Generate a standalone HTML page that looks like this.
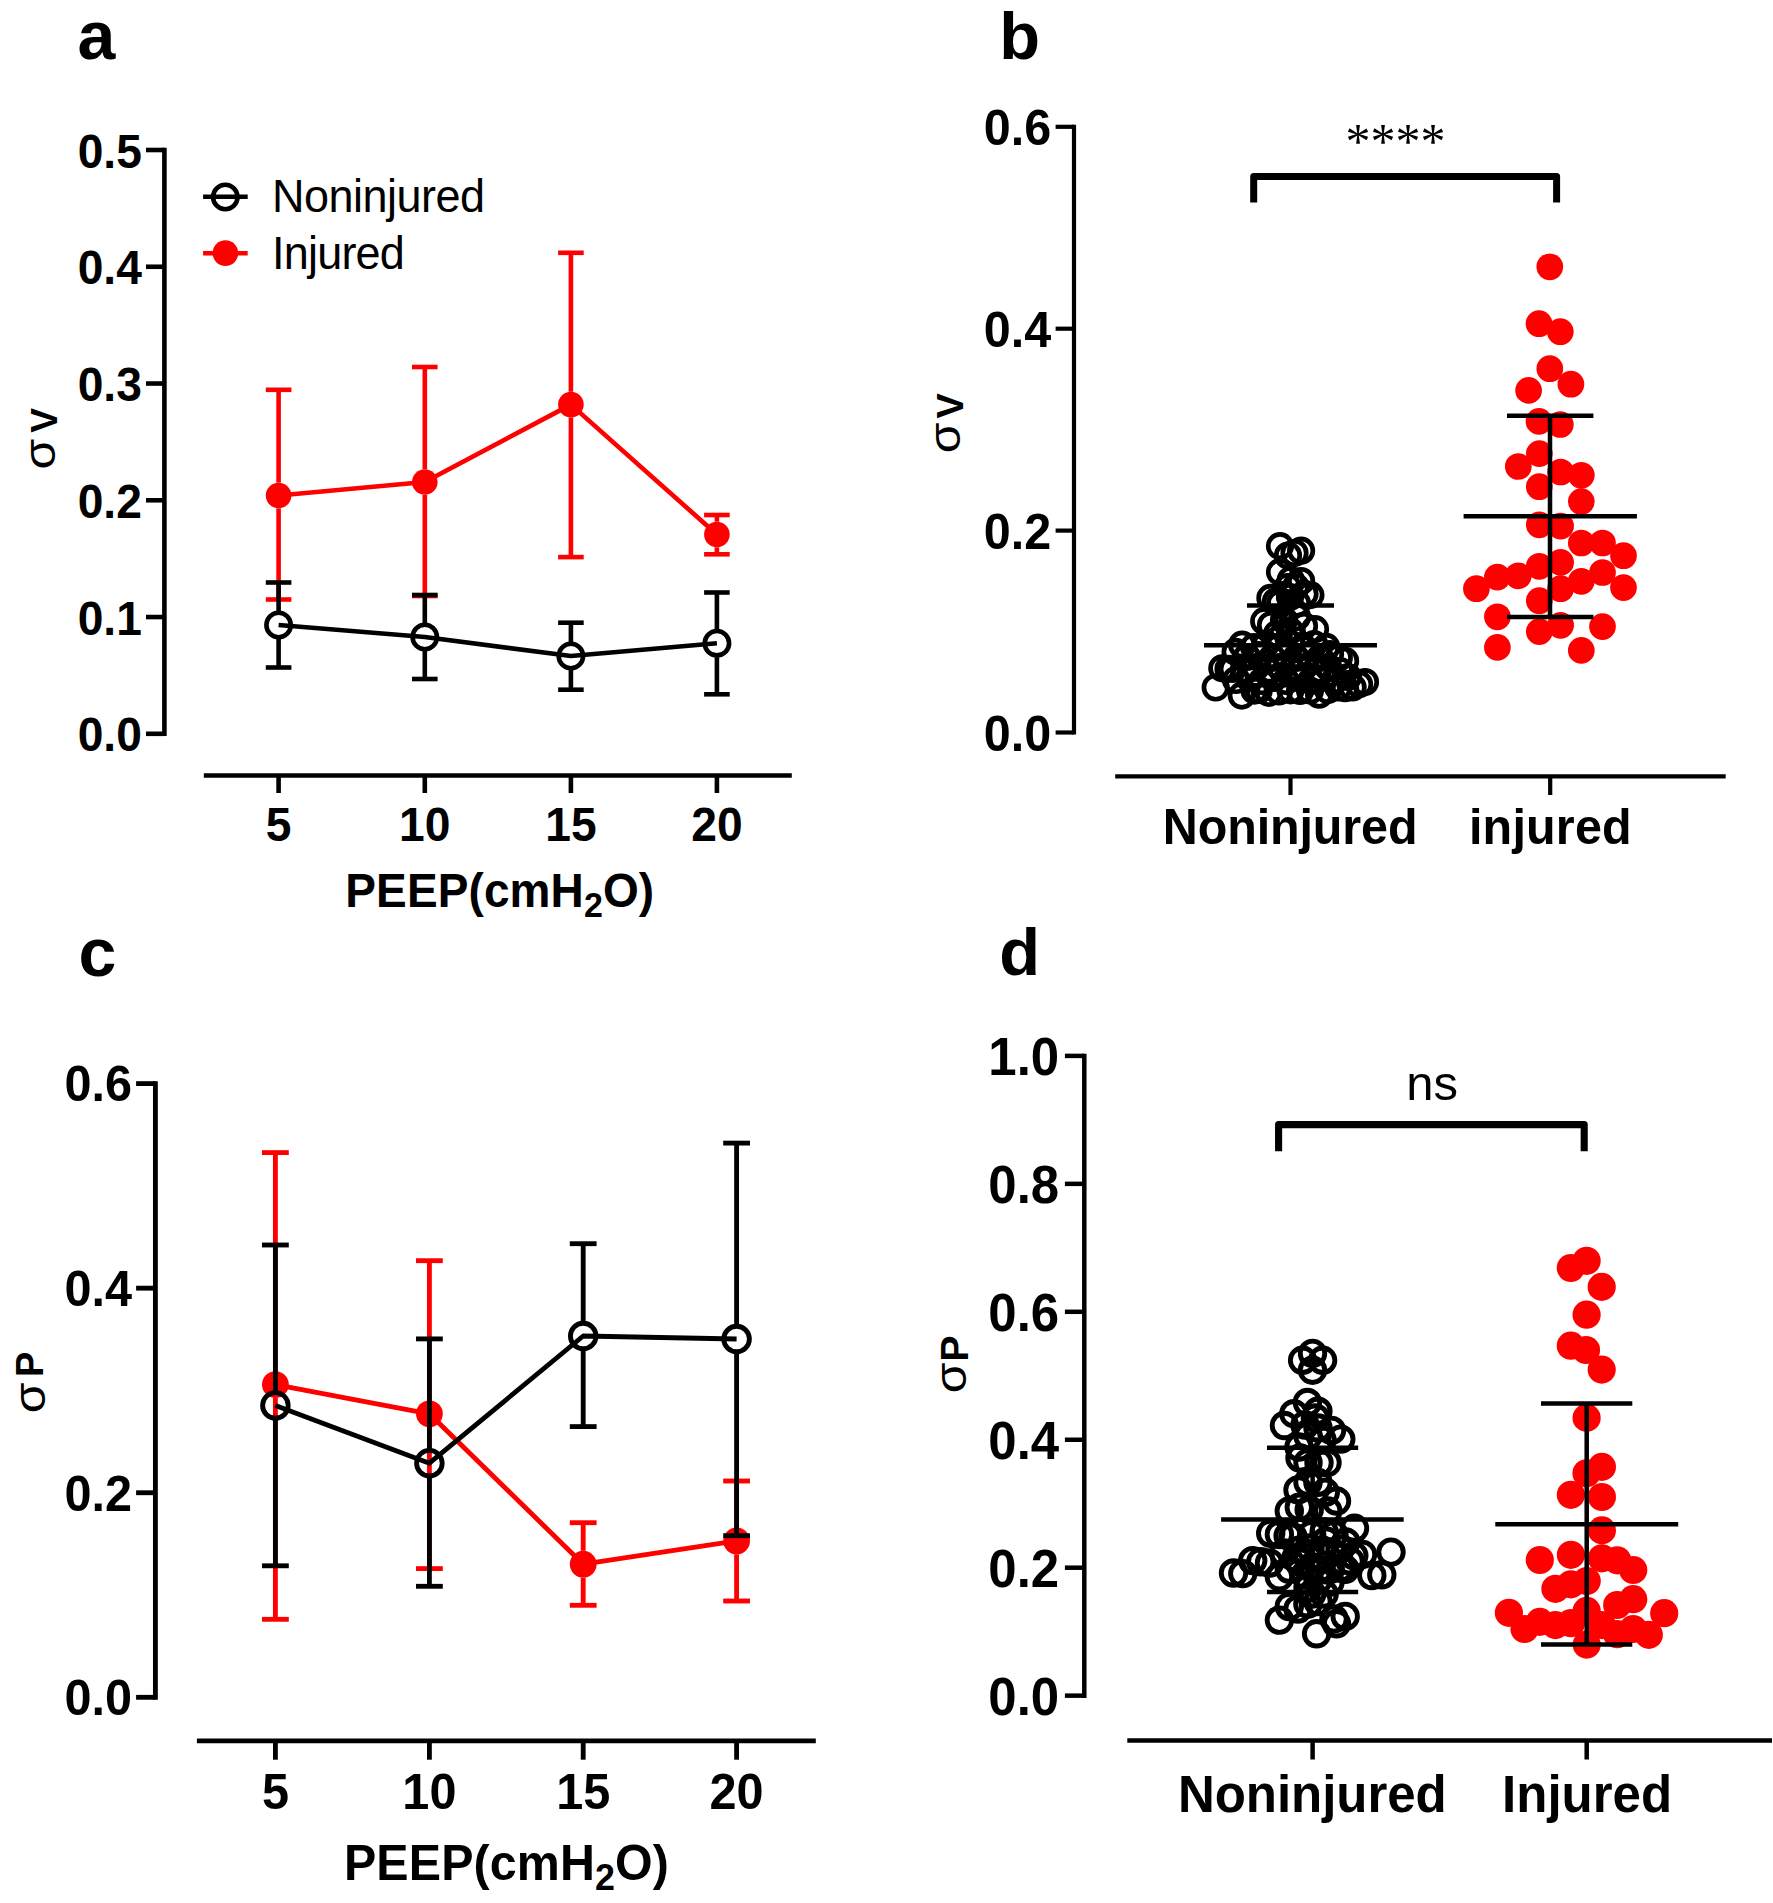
<!DOCTYPE html>
<html lang="en"><head><meta charset="utf-8"><title>Figure</title>
<style>html,body{margin:0;padding:0;background:#fff;}svg{display:block;}text{font-family:'Liberation Sans', sans-serif;fill:#000;}</style>
</head><body>
<svg width="1773" height="1903" viewBox="0 0 1773 1903">
<rect width="1773" height="1903" fill="#fff"/>
<text transform="translate(77.60,58.60) scale(1,1.0)" text-anchor="start" style="font-size:68px;font-weight:bold;" >a</text>
<text transform="translate(999.30,58.50) scale(1,1.0)" text-anchor="start" style="font-size:66.8px;font-weight:bold;" >b</text>
<text transform="translate(78.40,975.60) scale(1,1.0)" text-anchor="start" style="font-size:68px;font-weight:bold;" >c</text>
<text transform="translate(999.20,975.30) scale(1,1.0)" text-anchor="start" style="font-size:66.8px;font-weight:bold;" >d</text>
<g id="panel-a">
<line x1="164.40" y1="147.70" x2="164.40" y2="736.10" stroke="#000" stroke-width="4.6" stroke-linecap="butt"/>
<line x1="146.00" y1="150.00" x2="164.40" y2="150.00" stroke="#000" stroke-width="4.6" stroke-linecap="butt"/>
<text transform="translate(141.90,167.50) scale(1,1.045)" text-anchor="end" style="font-size:46.2px;font-weight:bold;" >0.5</text>
<line x1="146.00" y1="266.76" x2="164.40" y2="266.76" stroke="#000" stroke-width="4.6" stroke-linecap="butt"/>
<text transform="translate(141.90,284.26) scale(1,1.045)" text-anchor="end" style="font-size:46.2px;font-weight:bold;" >0.4</text>
<line x1="146.00" y1="383.52" x2="164.40" y2="383.52" stroke="#000" stroke-width="4.6" stroke-linecap="butt"/>
<text transform="translate(141.90,401.02) scale(1,1.045)" text-anchor="end" style="font-size:46.2px;font-weight:bold;" >0.3</text>
<line x1="146.00" y1="500.28" x2="164.40" y2="500.28" stroke="#000" stroke-width="4.6" stroke-linecap="butt"/>
<text transform="translate(141.90,517.78) scale(1,1.045)" text-anchor="end" style="font-size:46.2px;font-weight:bold;" >0.2</text>
<line x1="146.00" y1="617.04" x2="164.40" y2="617.04" stroke="#000" stroke-width="4.6" stroke-linecap="butt"/>
<text transform="translate(141.90,634.54) scale(1,1.045)" text-anchor="end" style="font-size:46.2px;font-weight:bold;" >0.1</text>
<line x1="146.00" y1="733.80" x2="164.40" y2="733.80" stroke="#000" stroke-width="4.6" stroke-linecap="butt"/>
<text transform="translate(141.90,751.30) scale(1,1.045)" text-anchor="end" style="font-size:46.2px;font-weight:bold;" >0.0</text>
<line x1="203.80" y1="775.50" x2="791.80" y2="775.50" stroke="#000" stroke-width="4.6" stroke-linecap="butt"/>
<line x1="278.60" y1="775.50" x2="278.60" y2="793.00" stroke="#000" stroke-width="4.6" stroke-linecap="butt"/>
<line x1="424.80" y1="775.50" x2="424.80" y2="793.00" stroke="#000" stroke-width="4.6" stroke-linecap="butt"/>
<line x1="570.90" y1="775.50" x2="570.90" y2="793.00" stroke="#000" stroke-width="4.6" stroke-linecap="butt"/>
<line x1="716.90" y1="775.50" x2="716.90" y2="793.00" stroke="#000" stroke-width="4.6" stroke-linecap="butt"/>
<text transform="translate(278.60,840.80) scale(1,1.045)" text-anchor="middle" style="font-size:46.2px;font-weight:bold;" >5</text>
<text transform="translate(424.80,840.80) scale(1,1.045)" text-anchor="middle" style="font-size:46.2px;font-weight:bold;" >10</text>
<text transform="translate(570.90,840.80) scale(1,1.045)" text-anchor="middle" style="font-size:46.2px;font-weight:bold;" >15</text>
<text transform="translate(716.90,840.80) scale(1,1.045)" text-anchor="middle" style="font-size:46.2px;font-weight:bold;" >20</text>
<text transform="translate(499.80,907.20) scale(1,1.035)" text-anchor="middle" style="font-size:46px;font-weight:bold;letter-spacing:0.12px">PEEP(cmH<tspan dy="9.20" style="font-size:34.04px">2</tspan><tspan dy="-9.20">O)</tspan></text>
<g transform="translate(54.80,454.10) rotate(-90) scale(1.117,1)"><text x="0" y="0" text-anchor="middle" style="font-size:44.6px;font-weight:normal">σ</text></g>
<g transform="translate(57.10,420.40) rotate(-90)"><text x="0" y="0" text-anchor="middle" style="font-size:37.2px;font-weight:bold">V</text></g>
<line x1="265.80" y1="389.80" x2="291.40" y2="389.80" stroke="#ff0000" stroke-width="4.6" stroke-linecap="butt"/>
<line x1="265.80" y1="599.50" x2="291.40" y2="599.50" stroke="#ff0000" stroke-width="4.6" stroke-linecap="butt"/>
<line x1="278.60" y1="389.80" x2="278.60" y2="482.70" stroke="#ff0000" stroke-width="4.6" stroke-linecap="butt"/>
<line x1="278.60" y1="508.30" x2="278.60" y2="599.50" stroke="#ff0000" stroke-width="4.6" stroke-linecap="butt"/>
<line x1="412.00" y1="367.00" x2="437.60" y2="367.00" stroke="#ff0000" stroke-width="4.6" stroke-linecap="butt"/>
<line x1="412.00" y1="596.00" x2="437.60" y2="596.00" stroke="#ff0000" stroke-width="4.6" stroke-linecap="butt"/>
<line x1="424.80" y1="367.00" x2="424.80" y2="469.20" stroke="#ff0000" stroke-width="4.6" stroke-linecap="butt"/>
<line x1="424.80" y1="494.80" x2="424.80" y2="596.00" stroke="#ff0000" stroke-width="4.6" stroke-linecap="butt"/>
<line x1="558.10" y1="252.80" x2="583.70" y2="252.80" stroke="#ff0000" stroke-width="4.6" stroke-linecap="butt"/>
<line x1="558.10" y1="557.10" x2="583.70" y2="557.10" stroke="#ff0000" stroke-width="4.6" stroke-linecap="butt"/>
<line x1="570.90" y1="252.80" x2="570.90" y2="391.80" stroke="#ff0000" stroke-width="4.6" stroke-linecap="butt"/>
<line x1="570.90" y1="417.40" x2="570.90" y2="557.10" stroke="#ff0000" stroke-width="4.6" stroke-linecap="butt"/>
<line x1="704.10" y1="515.00" x2="729.70" y2="515.00" stroke="#ff0000" stroke-width="4.6" stroke-linecap="butt"/>
<line x1="704.10" y1="554.30" x2="729.70" y2="554.30" stroke="#ff0000" stroke-width="4.6" stroke-linecap="butt"/>
<line x1="716.90" y1="515.00" x2="716.90" y2="521.70" stroke="#ff0000" stroke-width="4.6" stroke-linecap="butt"/>
<line x1="716.90" y1="547.30" x2="716.90" y2="554.30" stroke="#ff0000" stroke-width="4.6" stroke-linecap="butt"/>
<polyline points="278.60,495.50 424.80,482.00 570.90,404.60 716.90,534.50" fill="none" stroke="#ff0000" stroke-width="4.6" stroke-linejoin="round"/>
<circle cx="278.60" cy="495.50" r="12.8" fill="#ff0000"/>
<circle cx="424.80" cy="482.00" r="12.8" fill="#ff0000"/>
<circle cx="570.90" cy="404.60" r="12.8" fill="#ff0000"/>
<circle cx="716.90" cy="534.50" r="12.8" fill="#ff0000"/>
<line x1="265.80" y1="582.50" x2="291.40" y2="582.50" stroke="#000" stroke-width="4.6" stroke-linecap="butt"/>
<line x1="265.80" y1="667.50" x2="291.40" y2="667.50" stroke="#000" stroke-width="4.6" stroke-linecap="butt"/>
<line x1="278.60" y1="582.50" x2="278.60" y2="611.00" stroke="#000" stroke-width="4.6" stroke-linecap="butt"/>
<line x1="278.60" y1="639.00" x2="278.60" y2="667.50" stroke="#000" stroke-width="4.6" stroke-linecap="butt"/>
<line x1="412.00" y1="595.00" x2="437.60" y2="595.00" stroke="#000" stroke-width="4.6" stroke-linecap="butt"/>
<line x1="412.00" y1="679.00" x2="437.60" y2="679.00" stroke="#000" stroke-width="4.6" stroke-linecap="butt"/>
<line x1="424.80" y1="595.00" x2="424.80" y2="623.00" stroke="#000" stroke-width="4.6" stroke-linecap="butt"/>
<line x1="424.80" y1="651.00" x2="424.80" y2="679.00" stroke="#000" stroke-width="4.6" stroke-linecap="butt"/>
<line x1="558.10" y1="622.70" x2="583.70" y2="622.70" stroke="#000" stroke-width="4.6" stroke-linecap="butt"/>
<line x1="558.10" y1="689.70" x2="583.70" y2="689.70" stroke="#000" stroke-width="4.6" stroke-linecap="butt"/>
<line x1="570.90" y1="622.70" x2="570.90" y2="642.00" stroke="#000" stroke-width="4.6" stroke-linecap="butt"/>
<line x1="570.90" y1="670.00" x2="570.90" y2="689.70" stroke="#000" stroke-width="4.6" stroke-linecap="butt"/>
<line x1="704.10" y1="592.50" x2="729.70" y2="592.50" stroke="#000" stroke-width="4.6" stroke-linecap="butt"/>
<line x1="704.10" y1="694.30" x2="729.70" y2="694.30" stroke="#000" stroke-width="4.6" stroke-linecap="butt"/>
<line x1="716.90" y1="592.50" x2="716.90" y2="629.20" stroke="#000" stroke-width="4.6" stroke-linecap="butt"/>
<line x1="716.90" y1="657.20" x2="716.90" y2="694.30" stroke="#000" stroke-width="4.6" stroke-linecap="butt"/>
<polyline points="278.60,625.00 424.80,637.00 570.90,656.00 716.90,643.20" fill="none" stroke="#000" stroke-width="4.6" stroke-linejoin="round"/>
<circle cx="278.60" cy="625.00" r="12.2" fill="none" stroke="#000" stroke-width="4.6"/>
<circle cx="424.80" cy="637.00" r="12.2" fill="none" stroke="#000" stroke-width="4.6"/>
<circle cx="570.90" cy="656.00" r="12.2" fill="none" stroke="#000" stroke-width="4.6"/>
<circle cx="716.90" cy="643.20" r="12.2" fill="none" stroke="#000" stroke-width="4.6"/>
<line x1="203.10" y1="196.80" x2="247.70" y2="196.80" stroke="#000" stroke-width="4.6" stroke-linecap="butt"/>
<circle cx="225.3" cy="197" r="12.2" fill="none" stroke="#000" stroke-width="4.6"/>
<line x1="203.10" y1="253.20" x2="247.70" y2="253.20" stroke="#ff0000" stroke-width="4.6" stroke-linecap="butt"/>
<circle cx="225.4" cy="253.1" r="12.8" fill="#ff0000"/>
<text transform="translate(272.00,212.40) scale(1,1.04)" text-anchor="start" style="font-size:45px;font-weight:normal;letter-spacing:-0.51px;" >Noninjured</text>
<text transform="translate(272.00,268.70) scale(1,1.04)" text-anchor="start" style="font-size:45px;font-weight:normal;letter-spacing:-0.78px;" >Injured</text>
</g>
<g id="panel-c">
<line x1="155.40" y1="1081.17" x2="155.40" y2="1699.73" stroke="#000" stroke-width="4.85" stroke-linecap="butt"/>
<line x1="136.10" y1="1083.60" x2="155.40" y2="1083.60" stroke="#000" stroke-width="4.85" stroke-linecap="butt"/>
<text transform="translate(132.00,1101.40) scale(1,1.045)" text-anchor="end" style="font-size:48.6px;font-weight:bold;" >0.6</text>
<line x1="136.10" y1="1288.17" x2="155.40" y2="1288.17" stroke="#000" stroke-width="4.85" stroke-linecap="butt"/>
<text transform="translate(132.00,1305.97) scale(1,1.045)" text-anchor="end" style="font-size:48.6px;font-weight:bold;" >0.4</text>
<line x1="136.10" y1="1492.74" x2="155.40" y2="1492.74" stroke="#000" stroke-width="4.85" stroke-linecap="butt"/>
<text transform="translate(132.00,1510.54) scale(1,1.045)" text-anchor="end" style="font-size:48.6px;font-weight:bold;" >0.2</text>
<line x1="136.10" y1="1697.31" x2="155.40" y2="1697.31" stroke="#000" stroke-width="4.85" stroke-linecap="butt"/>
<text transform="translate(132.00,1715.11) scale(1,1.045)" text-anchor="end" style="font-size:48.6px;font-weight:bold;" >0.0</text>
<line x1="196.90" y1="1740.90" x2="815.80" y2="1740.90" stroke="#000" stroke-width="4.85" stroke-linecap="butt"/>
<line x1="275.40" y1="1740.90" x2="275.40" y2="1759.70" stroke="#000" stroke-width="4.85" stroke-linecap="butt"/>
<line x1="429.40" y1="1740.90" x2="429.40" y2="1759.70" stroke="#000" stroke-width="4.85" stroke-linecap="butt"/>
<line x1="583.20" y1="1740.90" x2="583.20" y2="1759.70" stroke="#000" stroke-width="4.85" stroke-linecap="butt"/>
<line x1="736.60" y1="1740.90" x2="736.60" y2="1759.70" stroke="#000" stroke-width="4.85" stroke-linecap="butt"/>
<text transform="translate(275.40,1809.30) scale(1,1.045)" text-anchor="middle" style="font-size:48.6px;font-weight:bold;" >5</text>
<text transform="translate(429.40,1809.30) scale(1,1.045)" text-anchor="middle" style="font-size:48.6px;font-weight:bold;" >10</text>
<text transform="translate(583.20,1809.30) scale(1,1.045)" text-anchor="middle" style="font-size:48.6px;font-weight:bold;" >15</text>
<text transform="translate(736.60,1809.30) scale(1,1.045)" text-anchor="middle" style="font-size:48.6px;font-weight:bold;" >20</text>
<text transform="translate(506.50,1879.70) scale(1,1.035)" text-anchor="middle" style="font-size:48.4px;font-weight:bold;letter-spacing:0.12px">PEEP(cmH<tspan dy="9.68" style="font-size:35.82px">2</tspan><tspan dy="-9.68">O)</tspan></text>
<g transform="translate(44.90,1398.00) rotate(-90) scale(1.117,1)"><text x="0" y="0" text-anchor="middle" style="font-size:44.6px;font-weight:normal">σ</text></g>
<g transform="translate(43.40,1364.30) rotate(-90)"><text x="0" y="0" text-anchor="middle" style="font-size:38.0px;font-weight:bold">P</text></g>
<line x1="262.00" y1="1152.60" x2="288.80" y2="1152.60" stroke="#ff0000" stroke-width="4.85" stroke-linecap="butt"/>
<line x1="262.00" y1="1619.30" x2="288.80" y2="1619.30" stroke="#ff0000" stroke-width="4.85" stroke-linecap="butt"/>
<line x1="275.40" y1="1152.60" x2="275.40" y2="1371.20" stroke="#ff0000" stroke-width="4.85" stroke-linecap="butt"/>
<line x1="275.40" y1="1398.00" x2="275.40" y2="1619.30" stroke="#ff0000" stroke-width="4.85" stroke-linecap="butt"/>
<line x1="416.00" y1="1260.70" x2="442.80" y2="1260.70" stroke="#ff0000" stroke-width="4.85" stroke-linecap="butt"/>
<line x1="416.00" y1="1568.60" x2="442.80" y2="1568.60" stroke="#ff0000" stroke-width="4.85" stroke-linecap="butt"/>
<line x1="429.40" y1="1260.70" x2="429.40" y2="1400.40" stroke="#ff0000" stroke-width="4.85" stroke-linecap="butt"/>
<line x1="429.40" y1="1427.20" x2="429.40" y2="1568.60" stroke="#ff0000" stroke-width="4.85" stroke-linecap="butt"/>
<line x1="569.80" y1="1522.70" x2="596.60" y2="1522.70" stroke="#ff0000" stroke-width="4.85" stroke-linecap="butt"/>
<line x1="569.80" y1="1605.30" x2="596.60" y2="1605.30" stroke="#ff0000" stroke-width="4.85" stroke-linecap="butt"/>
<line x1="583.20" y1="1522.70" x2="583.20" y2="1550.80" stroke="#ff0000" stroke-width="4.85" stroke-linecap="butt"/>
<line x1="583.20" y1="1577.60" x2="583.20" y2="1605.30" stroke="#ff0000" stroke-width="4.85" stroke-linecap="butt"/>
<line x1="723.20" y1="1481.00" x2="750.00" y2="1481.00" stroke="#ff0000" stroke-width="4.85" stroke-linecap="butt"/>
<line x1="723.20" y1="1601.00" x2="750.00" y2="1601.00" stroke="#ff0000" stroke-width="4.85" stroke-linecap="butt"/>
<line x1="736.60" y1="1481.00" x2="736.60" y2="1527.50" stroke="#ff0000" stroke-width="4.85" stroke-linecap="butt"/>
<line x1="736.60" y1="1554.30" x2="736.60" y2="1601.00" stroke="#ff0000" stroke-width="4.85" stroke-linecap="butt"/>
<polyline points="275.40,1384.60 429.40,1413.80 583.20,1564.20 736.60,1540.90" fill="none" stroke="#ff0000" stroke-width="4.85" stroke-linejoin="round"/>
<circle cx="275.40" cy="1384.60" r="13.4" fill="#ff0000"/>
<circle cx="429.40" cy="1413.80" r="13.4" fill="#ff0000"/>
<circle cx="583.20" cy="1564.20" r="13.4" fill="#ff0000"/>
<circle cx="736.60" cy="1540.90" r="13.4" fill="#ff0000"/>
<line x1="262.00" y1="1245.00" x2="288.80" y2="1245.00" stroke="#000" stroke-width="4.85" stroke-linecap="butt"/>
<line x1="262.00" y1="1565.80" x2="288.80" y2="1565.80" stroke="#000" stroke-width="4.85" stroke-linecap="butt"/>
<line x1="275.40" y1="1245.00" x2="275.40" y2="1390.68" stroke="#000" stroke-width="4.85" stroke-linecap="butt"/>
<line x1="275.40" y1="1420.12" x2="275.40" y2="1565.80" stroke="#000" stroke-width="4.85" stroke-linecap="butt"/>
<line x1="416.00" y1="1338.90" x2="442.80" y2="1338.90" stroke="#000" stroke-width="4.85" stroke-linecap="butt"/>
<line x1="416.00" y1="1586.30" x2="442.80" y2="1586.30" stroke="#000" stroke-width="4.85" stroke-linecap="butt"/>
<line x1="429.40" y1="1338.90" x2="429.40" y2="1448.48" stroke="#000" stroke-width="4.85" stroke-linecap="butt"/>
<line x1="429.40" y1="1477.92" x2="429.40" y2="1586.30" stroke="#000" stroke-width="4.85" stroke-linecap="butt"/>
<line x1="569.80" y1="1243.70" x2="596.60" y2="1243.70" stroke="#000" stroke-width="4.85" stroke-linecap="butt"/>
<line x1="569.80" y1="1426.60" x2="596.60" y2="1426.60" stroke="#000" stroke-width="4.85" stroke-linecap="butt"/>
<line x1="583.20" y1="1243.70" x2="583.20" y2="1321.28" stroke="#000" stroke-width="4.85" stroke-linecap="butt"/>
<line x1="583.20" y1="1350.72" x2="583.20" y2="1426.60" stroke="#000" stroke-width="4.85" stroke-linecap="butt"/>
<line x1="723.20" y1="1143.10" x2="750.00" y2="1143.10" stroke="#000" stroke-width="4.85" stroke-linecap="butt"/>
<line x1="723.20" y1="1535.70" x2="750.00" y2="1535.70" stroke="#000" stroke-width="4.85" stroke-linecap="butt"/>
<line x1="736.60" y1="1143.10" x2="736.60" y2="1324.28" stroke="#000" stroke-width="4.85" stroke-linecap="butt"/>
<line x1="736.60" y1="1353.72" x2="736.60" y2="1535.70" stroke="#000" stroke-width="4.85" stroke-linecap="butt"/>
<polyline points="275.40,1405.40 429.40,1463.20 583.20,1336.00 736.60,1339.00" fill="none" stroke="#000" stroke-width="4.85" stroke-linejoin="round"/>
<circle cx="275.40" cy="1405.40" r="12.8" fill="none" stroke="#000" stroke-width="4.85"/>
<circle cx="429.40" cy="1463.20" r="12.8" fill="none" stroke="#000" stroke-width="4.85"/>
<circle cx="583.20" cy="1336.00" r="12.8" fill="none" stroke="#000" stroke-width="4.85"/>
<circle cx="736.60" cy="1339.00" r="12.8" fill="none" stroke="#000" stroke-width="4.85"/>
</g>
<g id="panel-b">
<line x1="1074.00" y1="124.70" x2="1074.00" y2="734.60" stroke="#000" stroke-width="4.2" stroke-linecap="butt"/>
<line x1="1055.60" y1="126.80" x2="1074.00" y2="126.80" stroke="#000" stroke-width="4.2" stroke-linecap="butt"/>
<text transform="translate(1051.20,145.10) scale(1,1.045)" text-anchor="end" style="font-size:48.5px;font-weight:bold;" >0.6</text>
<line x1="1055.60" y1="328.70" x2="1074.00" y2="328.70" stroke="#000" stroke-width="4.2" stroke-linecap="butt"/>
<text transform="translate(1051.20,347.00) scale(1,1.045)" text-anchor="end" style="font-size:48.5px;font-weight:bold;" >0.4</text>
<line x1="1055.60" y1="530.60" x2="1074.00" y2="530.60" stroke="#000" stroke-width="4.2" stroke-linecap="butt"/>
<text transform="translate(1051.20,548.90) scale(1,1.045)" text-anchor="end" style="font-size:48.5px;font-weight:bold;" >0.2</text>
<line x1="1055.60" y1="732.50" x2="1074.00" y2="732.50" stroke="#000" stroke-width="4.2" stroke-linecap="butt"/>
<text transform="translate(1051.20,750.80) scale(1,1.045)" text-anchor="end" style="font-size:48.5px;font-weight:bold;" >0.0</text>
<line x1="1115.20" y1="776.30" x2="1725.70" y2="776.30" stroke="#000" stroke-width="4.2" stroke-linecap="butt"/>
<line x1="1290.50" y1="776.30" x2="1290.50" y2="795.00" stroke="#000" stroke-width="4.2" stroke-linecap="butt"/>
<line x1="1550.20" y1="776.30" x2="1550.20" y2="795.00" stroke="#000" stroke-width="4.2" stroke-linecap="butt"/>
<text transform="translate(1290.10,843.50) scale(1,1.035)" text-anchor="middle" style="font-size:48.5px;font-weight:bold;letter-spacing:-0.12px;" >Noninjured</text>
<text transform="translate(1550.40,843.50) scale(1,1.035)" text-anchor="middle" style="font-size:48.5px;font-weight:bold;letter-spacing:0.2px;" >injured</text>
<g transform="translate(960.40,437.90) rotate(-90) scale(1.117,1)"><text x="0" y="0" text-anchor="middle" style="font-size:44.6px;font-weight:normal">σ</text></g>
<g transform="translate(963.00,406.00) rotate(-90)"><text x="0" y="0" text-anchor="middle" style="font-size:37.8px;font-weight:bold">V</text></g>
<g fill="none" stroke="#000" stroke-width="4.7">
<circle cx="1280.0" cy="546.1" r="11.75"/>
<circle cx="1301.1" cy="550.7" r="11.75"/>
<circle cx="1288.0" cy="555.5" r="11.75"/>
<circle cx="1294.5" cy="553.0" r="11.75"/>
<circle cx="1280.0" cy="572.1" r="11.75"/>
<circle cx="1301.1" cy="581.0" r="11.75"/>
<circle cx="1290.8" cy="580.0" r="11.75"/>
<circle cx="1287.7" cy="587.0" r="11.75"/>
<circle cx="1295.8" cy="587.0" r="11.75"/>
<circle cx="1310.4" cy="595.1" r="11.75"/>
<circle cx="1304.5" cy="593.9" r="11.75"/>
<circle cx="1270.4" cy="597.9" r="11.75"/>
<circle cx="1276.0" cy="601.3" r="11.75"/>
<circle cx="1280.3" cy="603.2" r="11.75"/>
<circle cx="1297.0" cy="603.5" r="11.75"/>
<circle cx="1290.0" cy="597.0" r="11.75"/>
<circle cx="1264.2" cy="621.2" r="11.75"/>
<circle cx="1315.0" cy="629.2" r="11.75"/>
<circle cx="1271.0" cy="625.0" r="11.75"/>
<circle cx="1284.0" cy="620.0" r="11.75"/>
<circle cx="1297.0" cy="617.0" r="11.75"/>
<circle cx="1304.0" cy="626.0" r="11.75"/>
<circle cx="1290.0" cy="631.0" r="11.75"/>
<circle cx="1277.0" cy="634.0" r="11.75"/>
<circle cx="1242.1" cy="644.7" r="11.75"/>
<circle cx="1235.6" cy="651.9" r="11.75"/>
<circle cx="1326.2" cy="646.9" r="11.75"/>
<circle cx="1338.8" cy="657.7" r="11.75"/>
<circle cx="1345.1" cy="660.9" r="11.75"/>
<circle cx="1222.3" cy="668.3" r="11.75"/>
<circle cx="1228.5" cy="668.9" r="11.75"/>
<circle cx="1232.8" cy="668.9" r="11.75"/>
<circle cx="1365.0" cy="682.0" r="11.75"/>
<circle cx="1359.1" cy="684.4" r="11.75"/>
<circle cx="1215.7" cy="687.5" r="11.75"/>
<circle cx="1352.6" cy="687.5" r="11.75"/>
<circle cx="1345.1" cy="688.2" r="11.75"/>
<circle cx="1338.3" cy="687.5" r="11.75"/>
<circle cx="1241.8" cy="695.6" r="11.75"/>
<circle cx="1254.5" cy="690.6" r="11.75"/>
<circle cx="1258.9" cy="690.0" r="11.75"/>
<circle cx="1268.8" cy="692.8" r="11.75"/>
<circle cx="1279.0" cy="691.5" r="11.75"/>
<circle cx="1290.5" cy="690.3" r="11.75"/>
<circle cx="1300.0" cy="691.0" r="11.75"/>
<circle cx="1310.0" cy="690.5" r="11.75"/>
<circle cx="1319.1" cy="694.7" r="11.75"/>
<circle cx="1328.0" cy="690.0" r="11.75"/>
<circle cx="1254.0" cy="647.0" r="11.75"/>
<circle cx="1266.0" cy="644.0" r="11.75"/>
<circle cx="1279.0" cy="647.0" r="11.75"/>
<circle cx="1291.0" cy="644.0" r="11.75"/>
<circle cx="1303.0" cy="647.0" r="11.75"/>
<circle cx="1314.0" cy="644.0" r="11.75"/>
<circle cx="1247.0" cy="657.0" r="11.75"/>
<circle cx="1259.0" cy="655.0" r="11.75"/>
<circle cx="1272.0" cy="658.0" r="11.75"/>
<circle cx="1284.0" cy="655.0" r="11.75"/>
<circle cx="1296.0" cy="658.0" r="11.75"/>
<circle cx="1308.0" cy="655.0" r="11.75"/>
<circle cx="1320.0" cy="658.0" r="11.75"/>
<circle cx="1330.0" cy="654.0" r="11.75"/>
<circle cx="1244.0" cy="669.0" r="11.75"/>
<circle cx="1256.0" cy="667.0" r="11.75"/>
<circle cx="1268.0" cy="670.0" r="11.75"/>
<circle cx="1280.0" cy="667.0" r="11.75"/>
<circle cx="1292.0" cy="670.0" r="11.75"/>
<circle cx="1304.0" cy="667.0" r="11.75"/>
<circle cx="1316.0" cy="670.0" r="11.75"/>
<circle cx="1328.0" cy="667.0" r="11.75"/>
<circle cx="1340.0" cy="671.0" r="11.75"/>
<circle cx="1236.0" cy="680.0" r="11.75"/>
<circle cx="1249.0" cy="678.0" r="11.75"/>
<circle cx="1262.0" cy="681.0" r="11.75"/>
<circle cx="1274.0" cy="678.0" r="11.75"/>
<circle cx="1286.0" cy="681.0" r="11.75"/>
<circle cx="1298.0" cy="678.0" r="11.75"/>
<circle cx="1311.0" cy="681.0" r="11.75"/>
<circle cx="1323.0" cy="678.0" r="11.75"/>
<circle cx="1335.0" cy="680.0" r="11.75"/>
<circle cx="1348.0" cy="677.0" r="11.75"/>
</g>
<line x1="1204.00" y1="645.30" x2="1377.00" y2="645.30" stroke="#000" stroke-width="4.5" stroke-linecap="butt"/>
<line x1="1247.00" y1="605.40" x2="1334.00" y2="605.40" stroke="#000" stroke-width="4.5" stroke-linecap="butt"/>
<line x1="1247.00" y1="685.30" x2="1334.00" y2="685.30" stroke="#000" stroke-width="4.5" stroke-linecap="butt"/>
<line x1="1290.50" y1="605.40" x2="1290.50" y2="685.30" stroke="#000" stroke-width="4.5" stroke-linecap="butt"/>
<g fill="#ff0000">
<circle cx="1549.8" cy="266.8" r="13.35"/>
<circle cx="1539.0" cy="323.7" r="13.35"/>
<circle cx="1560.3" cy="331.7" r="13.35"/>
<circle cx="1549.8" cy="368.7" r="13.35"/>
<circle cx="1570.9" cy="384.2" r="13.35"/>
<circle cx="1528.6" cy="390.4" r="13.35"/>
<circle cx="1539.0" cy="421.4" r="13.35"/>
<circle cx="1560.3" cy="424.5" r="13.35"/>
<circle cx="1539.3" cy="453.6" r="13.35"/>
<circle cx="1518.3" cy="466.5" r="13.35"/>
<circle cx="1560.6" cy="472.0" r="13.35"/>
<circle cx="1581.3" cy="475.3" r="13.35"/>
<circle cx="1539.3" cy="486.7" r="13.35"/>
<circle cx="1581.3" cy="501.6" r="13.35"/>
<circle cx="1539.3" cy="524.8" r="13.35"/>
<circle cx="1560.6" cy="526.1" r="13.35"/>
<circle cx="1581.3" cy="543.0" r="13.35"/>
<circle cx="1602.5" cy="543.0" r="13.35"/>
<circle cx="1623.5" cy="555.7" r="13.35"/>
<circle cx="1560.6" cy="562.4" r="13.35"/>
<circle cx="1539.3" cy="566.3" r="13.35"/>
<circle cx="1602.5" cy="572.5" r="13.35"/>
<circle cx="1518.3" cy="575.8" r="13.35"/>
<circle cx="1497.4" cy="577.1" r="13.35"/>
<circle cx="1581.3" cy="581.3" r="13.35"/>
<circle cx="1623.5" cy="587.6" r="13.35"/>
<circle cx="1476.4" cy="588.7" r="13.35"/>
<circle cx="1560.6" cy="588.7" r="13.35"/>
<circle cx="1539.3" cy="600.7" r="13.35"/>
<circle cx="1497.4" cy="616.8" r="13.35"/>
<circle cx="1560.6" cy="625.3" r="13.35"/>
<circle cx="1602.5" cy="626.6" r="13.35"/>
<circle cx="1539.3" cy="631.6" r="13.35"/>
<circle cx="1497.4" cy="647.4" r="13.35"/>
<circle cx="1581.3" cy="650.4" r="13.35"/>
</g>
<line x1="1463.60" y1="516.30" x2="1636.90" y2="516.30" stroke="#000" stroke-width="4.5" stroke-linecap="butt"/>
<line x1="1507.00" y1="415.70" x2="1593.40" y2="415.70" stroke="#000" stroke-width="4.5" stroke-linecap="butt"/>
<line x1="1507.00" y1="617.00" x2="1593.40" y2="617.00" stroke="#000" stroke-width="4.5" stroke-linecap="butt"/>
<line x1="1550.00" y1="415.70" x2="1550.00" y2="617.00" stroke="#000" stroke-width="4.5" stroke-linecap="butt"/>
<polyline points="1253.70,202.50 1253.70,176.40 1556.60,176.40 1556.60,202.50" fill="none" stroke="#000" stroke-width="7.0" stroke-linejoin="round"/>
<text transform="translate(1395.40,158.00) scale(1,1.0)" text-anchor="middle" style="font-size:50px;font-weight:normal;letter-spacing:0px;font-family:'Liberation Serif',serif;" >****</text>
</g>
<g id="panel-d">
<line x1="1084.30" y1="1053.65" x2="1084.30" y2="1697.90" stroke="#000" stroke-width="4.5" stroke-linecap="butt"/>
<line x1="1064.90" y1="1055.90" x2="1084.30" y2="1055.90" stroke="#000" stroke-width="4.5" stroke-linecap="butt"/>
<text transform="translate(1059.20,1075.35) scale(1,1.045)" text-anchor="end" style="font-size:51px;font-weight:bold;" >1.0</text>
<line x1="1064.90" y1="1183.85" x2="1084.30" y2="1183.85" stroke="#000" stroke-width="4.5" stroke-linecap="butt"/>
<text transform="translate(1059.20,1203.30) scale(1,1.045)" text-anchor="end" style="font-size:51px;font-weight:bold;" >0.8</text>
<line x1="1064.90" y1="1311.80" x2="1084.30" y2="1311.80" stroke="#000" stroke-width="4.5" stroke-linecap="butt"/>
<text transform="translate(1059.20,1331.25) scale(1,1.045)" text-anchor="end" style="font-size:51px;font-weight:bold;" >0.6</text>
<line x1="1064.90" y1="1439.75" x2="1084.30" y2="1439.75" stroke="#000" stroke-width="4.5" stroke-linecap="butt"/>
<text transform="translate(1059.20,1459.20) scale(1,1.045)" text-anchor="end" style="font-size:51px;font-weight:bold;" >0.4</text>
<line x1="1064.90" y1="1567.70" x2="1084.30" y2="1567.70" stroke="#000" stroke-width="4.5" stroke-linecap="butt"/>
<text transform="translate(1059.20,1587.15) scale(1,1.045)" text-anchor="end" style="font-size:51px;font-weight:bold;" >0.2</text>
<line x1="1064.90" y1="1695.65" x2="1084.30" y2="1695.65" stroke="#000" stroke-width="4.5" stroke-linecap="butt"/>
<text transform="translate(1059.20,1715.10) scale(1,1.045)" text-anchor="end" style="font-size:51px;font-weight:bold;" >0.0</text>
<line x1="1127.30" y1="1740.60" x2="1772.00" y2="1740.60" stroke="#000" stroke-width="4.5" stroke-linecap="butt"/>
<line x1="1312.60" y1="1740.60" x2="1312.60" y2="1759.50" stroke="#000" stroke-width="4.5" stroke-linecap="butt"/>
<line x1="1586.70" y1="1740.60" x2="1586.70" y2="1759.50" stroke="#000" stroke-width="4.5" stroke-linecap="butt"/>
<text transform="translate(1312.30,1811.90) scale(1,1.0)" text-anchor="middle" style="font-size:51px;font-weight:bold;letter-spacing:-0.03px;" >Noninjured</text>
<text transform="translate(1587.10,1811.90) scale(1,1.0)" text-anchor="middle" style="font-size:51px;font-weight:bold;letter-spacing:0.0px;" >Injured</text>
<g transform="translate(966.10,1378.00) rotate(-90) scale(1.117,1)"><text x="0" y="0" text-anchor="middle" style="font-size:44.6px;font-weight:normal">σ</text></g>
<g transform="translate(967.80,1348.50) rotate(-90)"><text x="0" y="0" text-anchor="middle" style="font-size:39.5px;font-weight:bold">P</text></g>
<g fill="none" stroke="#000" stroke-width="4.9">
<circle cx="1312.5" cy="1353.4" r="12.25"/>
<circle cx="1302.6" cy="1360.3" r="12.25"/>
<circle cx="1322.6" cy="1360.3" r="12.25"/>
<circle cx="1312.5" cy="1370.2" r="12.25"/>
<circle cx="1307.4" cy="1402.5" r="12.25"/>
<circle cx="1317.9" cy="1411.2" r="12.25"/>
<circle cx="1293.9" cy="1413.7" r="12.25"/>
<circle cx="1284.4" cy="1425.5" r="12.25"/>
<circle cx="1315.4" cy="1418.0" r="12.25"/>
<circle cx="1331.5" cy="1430.4" r="12.25"/>
<circle cx="1340.8" cy="1439.1" r="12.25"/>
<circle cx="1299.0" cy="1447.0" r="12.25"/>
<circle cx="1305.0" cy="1425.0" r="12.25"/>
<circle cx="1318.0" cy="1428.0" r="12.25"/>
<circle cx="1308.0" cy="1436.0" r="12.25"/>
<circle cx="1322.0" cy="1440.0" r="12.25"/>
<circle cx="1308.0" cy="1462.7" r="12.25"/>
<circle cx="1319.0" cy="1462.7" r="12.25"/>
<circle cx="1327.0" cy="1462.7" r="12.25"/>
<circle cx="1300.0" cy="1458.0" r="12.25"/>
<circle cx="1298.0" cy="1489.9" r="12.25"/>
<circle cx="1308.0" cy="1482.4" r="12.25"/>
<circle cx="1317.9" cy="1482.4" r="12.25"/>
<circle cx="1325.3" cy="1492.3" r="12.25"/>
<circle cx="1336.5" cy="1501.0" r="12.25"/>
<circle cx="1289.3" cy="1510.9" r="12.25"/>
<circle cx="1299.3" cy="1507.2" r="12.25"/>
<circle cx="1309.2" cy="1509.7" r="12.25"/>
<circle cx="1327.8" cy="1510.9" r="12.25"/>
<circle cx="1354.5" cy="1528.3" r="12.25"/>
<circle cx="1270.7" cy="1533.3" r="12.25"/>
<circle cx="1279.4" cy="1534.5" r="12.25"/>
<circle cx="1288.1" cy="1535.8" r="12.25"/>
<circle cx="1293.0" cy="1537.0" r="12.25"/>
<circle cx="1345.8" cy="1542.0" r="12.25"/>
<circle cx="1311.7" cy="1534.5" r="12.25"/>
<circle cx="1324.1" cy="1532.0" r="12.25"/>
<circle cx="1334.0" cy="1534.5" r="12.25"/>
<circle cx="1391.0" cy="1552.1" r="12.25"/>
<circle cx="1362.5" cy="1554.4" r="12.25"/>
<circle cx="1353.8" cy="1555.6" r="12.25"/>
<circle cx="1252.7" cy="1560.6" r="12.25"/>
<circle cx="1260.8" cy="1561.8" r="12.25"/>
<circle cx="1269.5" cy="1563.0" r="12.25"/>
<circle cx="1233.5" cy="1573.0" r="12.25"/>
<circle cx="1242.8" cy="1573.6" r="12.25"/>
<circle cx="1371.8" cy="1575.5" r="12.25"/>
<circle cx="1381.8" cy="1574.8" r="12.25"/>
<circle cx="1279.4" cy="1576.7" r="12.25"/>
<circle cx="1289.3" cy="1569.3" r="12.25"/>
<circle cx="1311.7" cy="1566.8" r="12.25"/>
<circle cx="1319.1" cy="1569.3" r="12.25"/>
<circle cx="1330.3" cy="1569.3" r="12.25"/>
<circle cx="1340.2" cy="1568.0" r="12.25"/>
<circle cx="1345.2" cy="1569.3" r="12.25"/>
<circle cx="1300.0" cy="1550.0" r="12.25"/>
<circle cx="1310.0" cy="1548.0" r="12.25"/>
<circle cx="1322.0" cy="1550.0" r="12.25"/>
<circle cx="1332.0" cy="1552.0" r="12.25"/>
<circle cx="1300.0" cy="1562.0" r="12.25"/>
<circle cx="1305.0" cy="1575.0" r="12.25"/>
<circle cx="1318.0" cy="1580.0" r="12.25"/>
<circle cx="1330.0" cy="1582.0" r="12.25"/>
<circle cx="1296.0" cy="1558.0" r="12.25"/>
<circle cx="1284.0" cy="1553.0" r="12.25"/>
<circle cx="1340.0" cy="1549.0" r="12.25"/>
<circle cx="1350.0" cy="1561.0" r="12.25"/>
<circle cx="1326.0" cy="1541.0" r="12.25"/>
<circle cx="1308.0" cy="1588.0" r="12.25"/>
<circle cx="1279.4" cy="1620.1" r="12.25"/>
<circle cx="1289.3" cy="1606.5" r="12.25"/>
<circle cx="1298.0" cy="1609.0" r="12.25"/>
<circle cx="1307.9" cy="1604.0" r="12.25"/>
<circle cx="1317.9" cy="1601.5" r="12.25"/>
<circle cx="1345.2" cy="1616.4" r="12.25"/>
<circle cx="1336.5" cy="1623.8" r="12.25"/>
<circle cx="1334.0" cy="1618.9" r="12.25"/>
<circle cx="1316.6" cy="1633.8" r="12.25"/>
<circle cx="1311.7" cy="1594.0" r="12.25"/>
<circle cx="1324.1" cy="1594.0" r="12.25"/>
</g>
<line x1="1221.10" y1="1519.60" x2="1403.70" y2="1519.60" stroke="#000" stroke-width="4.5" stroke-linecap="butt"/>
<line x1="1267.00" y1="1447.80" x2="1358.20" y2="1447.80" stroke="#000" stroke-width="4.5" stroke-linecap="butt"/>
<line x1="1267.00" y1="1592.00" x2="1358.20" y2="1592.00" stroke="#000" stroke-width="4.5" stroke-linecap="butt"/>
<line x1="1312.60" y1="1447.80" x2="1312.60" y2="1592.00" stroke="#000" stroke-width="4.5" stroke-linecap="butt"/>
<g fill="#ff0000">
<circle cx="1586.6" cy="1260.8" r="14.1"/>
<circle cx="1570.8" cy="1268.0" r="14.1"/>
<circle cx="1601.7" cy="1286.9" r="14.1"/>
<circle cx="1586.6" cy="1314.7" r="14.1"/>
<circle cx="1570.8" cy="1345.7" r="14.1"/>
<circle cx="1586.0" cy="1350.0" r="14.1"/>
<circle cx="1601.7" cy="1369.6" r="14.1"/>
<circle cx="1586.6" cy="1417.9" r="14.1"/>
<circle cx="1601.9" cy="1466.9" r="14.1"/>
<circle cx="1586.5" cy="1473.3" r="14.1"/>
<circle cx="1570.9" cy="1494.8" r="14.1"/>
<circle cx="1601.9" cy="1497.0" r="14.1"/>
<circle cx="1601.9" cy="1530.4" r="14.1"/>
<circle cx="1570.9" cy="1554.8" r="14.1"/>
<circle cx="1601.9" cy="1558.3" r="14.1"/>
<circle cx="1539.8" cy="1560.0" r="14.1"/>
<circle cx="1617.2" cy="1560.3" r="14.1"/>
<circle cx="1633.2" cy="1570.0" r="14.1"/>
<circle cx="1586.7" cy="1581.0" r="14.1"/>
<circle cx="1570.9" cy="1584.3" r="14.1"/>
<circle cx="1555.4" cy="1588.8" r="14.1"/>
<circle cx="1633.2" cy="1599.2" r="14.1"/>
<circle cx="1617.2" cy="1605.0" r="14.1"/>
<circle cx="1586.7" cy="1610.9" r="14.1"/>
<circle cx="1508.9" cy="1612.8" r="14.1"/>
<circle cx="1664.2" cy="1613.2" r="14.1"/>
<circle cx="1539.8" cy="1621.9" r="14.1"/>
<circle cx="1555.4" cy="1625.1" r="14.1"/>
<circle cx="1570.9" cy="1623.2" r="14.1"/>
<circle cx="1601.9" cy="1625.1" r="14.1"/>
<circle cx="1524.5" cy="1629.0" r="14.1"/>
<circle cx="1633.2" cy="1629.0" r="14.1"/>
<circle cx="1617.2" cy="1634.2" r="14.1"/>
<circle cx="1648.8" cy="1634.8" r="14.1"/>
<circle cx="1586.7" cy="1644.6" r="14.1"/>
</g>
<line x1="1495.30" y1="1524.20" x2="1678.20" y2="1524.20" stroke="#000" stroke-width="4.5" stroke-linecap="butt"/>
<line x1="1541.00" y1="1403.60" x2="1632.30" y2="1403.60" stroke="#000" stroke-width="4.5" stroke-linecap="butt"/>
<line x1="1541.00" y1="1644.60" x2="1632.30" y2="1644.60" stroke="#000" stroke-width="4.5" stroke-linecap="butt"/>
<line x1="1586.70" y1="1403.60" x2="1586.70" y2="1644.60" stroke="#000" stroke-width="4.5" stroke-linecap="butt"/>
<polyline points="1278.60,1151.30 1278.60,1124.60 1584.20,1124.60 1584.20,1151.30" fill="none" stroke="#000" stroke-width="7.1" stroke-linejoin="round"/>
<text transform="translate(1432.20,1100.00) scale(1,1.0)" text-anchor="middle" style="font-size:49px;font-weight:normal;" >ns</text>
</g>
</svg></body></html>
